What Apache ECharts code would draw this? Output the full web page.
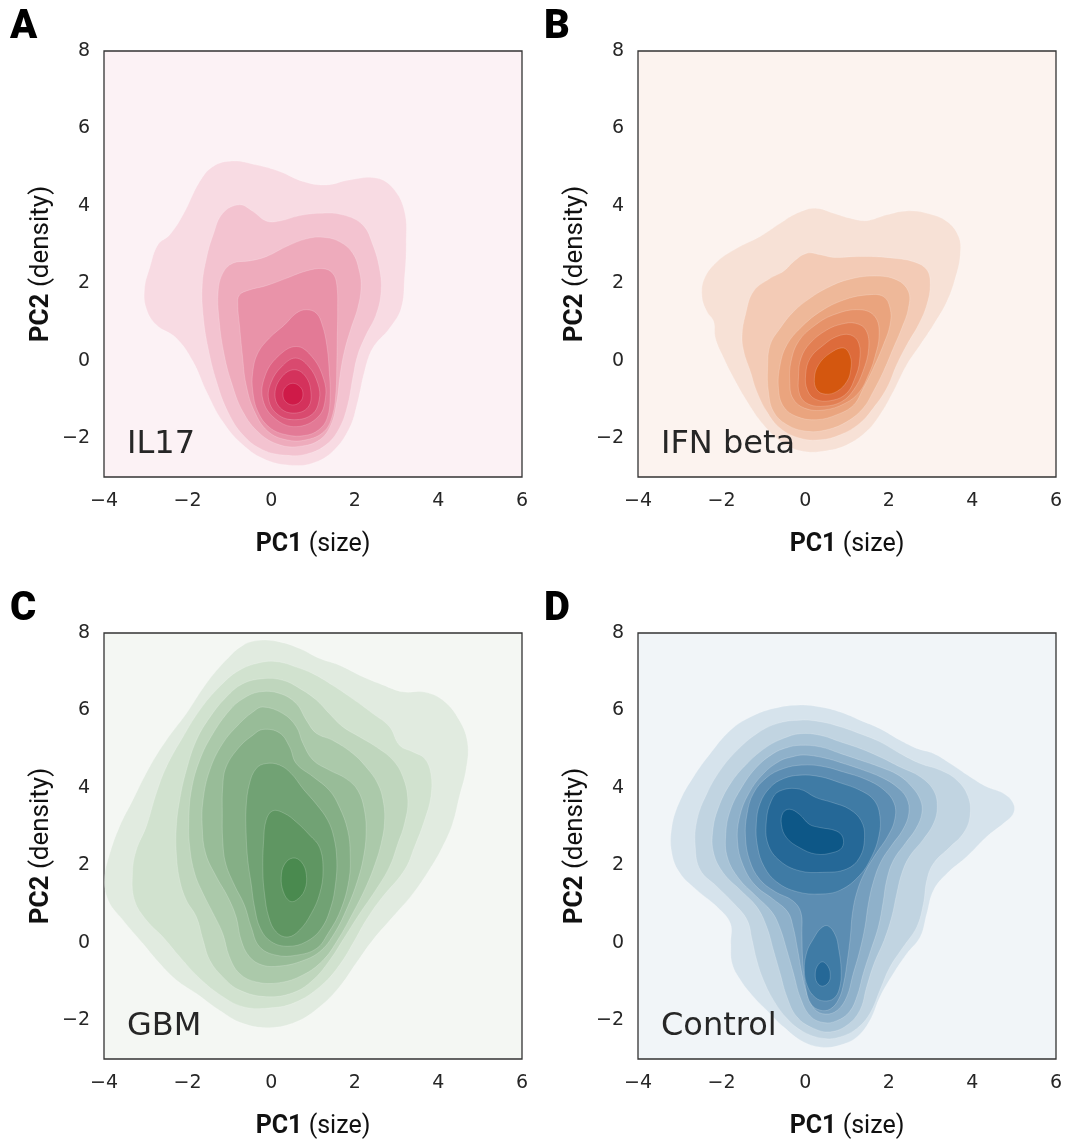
<!DOCTYPE html>
<html>
<head>
  <meta charset="utf-8">
  <title>kde panels</title>
  <script src="https://cdn.jsdelivr.net/npm/echarts@6/dist/echarts.min.js"></script>
  <style>
    body { margin: 0; padding: 0; background: #fff; }
    #main { width: 1066px; height: 1142px; }
  </style>
</head>
<body>
<div id="main"></div>
<script>
  // tick labels shared by the four panels
  var xTicks = [-4, -2, 0, 2, 4, 6];
  var yTicks = [-2, 0, 2, 4, 6, 8];

  // filled density contours, [PC1, PC2] vertices,
  // outermost level first; a level can hold more than one ring
  var il17Levels = [
    [[[-0.92,5.16],[-0.36,5.06],[0.20,4.89],[0.76,4.63],[1.31,4.54],[1.87,4.67],[2.51,4.72],[2.91,4.46],[3.19,3.86],[3.23,3.00],[3.19,2.13],[3.11,1.36],[2.83,0.84],[2.43,0.33],[2.23,-0.28],[2.07,-1.05],[1.87,-1.74],[1.47,-2.34],[1.00,-2.64],[0.52,-2.70],[-0.12,-2.56],[-0.68,-2.17],[-1.16,-1.57],[-1.55,-0.79],[-1.87,-0.02],[-2.27,0.59],[-2.75,0.93],[-2.99,1.36],[-3.03,1.87],[-2.91,2.39],[-2.71,3.00],[-2.43,3.25],[-2.11,3.77],[-1.71,4.63],[-1.39,5.02]]],
    [[[-0.76,4.03],[-0.44,3.86],[-0.12,3.61],[0.20,3.61],[0.68,3.75],[1.16,3.81],[1.71,3.77],[2.19,3.51],[2.43,3.00],[2.59,2.39],[2.63,1.79],[2.51,1.19],[2.27,0.67],[2.07,0.15],[1.95,-0.45],[1.83,-1.14],[1.63,-1.74],[1.31,-2.17],[0.84,-2.41],[0.36,-2.44],[-0.20,-2.30],[-0.68,-1.91],[-1.04,-1.31],[-1.31,-0.53],[-1.51,0.33],[-1.63,1.19],[-1.65,1.96],[-1.55,2.65],[-1.39,3.25],[-1.16,3.81]]],
    [[[-0.92,2.52],[-0.52,2.58],[-0.12,2.69],[0.36,2.95],[0.84,3.15],[1.24,3.19],[1.63,3.08],[1.95,2.78],[2.11,2.31],[2.15,1.88],[2.07,1.36],[1.91,0.84],[1.75,0.24],[1.65,-0.36],[1.57,-1.05],[1.43,-1.65],[1.16,-2.04],[0.68,-2.21],[0.20,-2.17],[-0.28,-1.87],[-0.68,-1.31],[-0.96,-0.53],[-1.14,0.24],[-1.25,1.10],[-1.27,1.79],[-1.16,2.26]]],
    [[[-0.76,1.70],[-0.52,1.83],[-0.12,1.94],[0.36,2.13],[0.84,2.32],[1.24,2.38],[1.47,2.26],[1.57,1.96],[1.59,1.27],[1.58,0.59],[1.57,-0.10],[1.55,-0.79],[1.47,-1.39],[1.27,-1.82],[0.84,-2.04],[0.36,-2.04],[-0.08,-1.82],[-0.40,-1.31],[-0.60,-0.62],[-0.69,0.15],[-0.76,0.93],[-0.80,1.45]]],
    [[[0.84,1.32],[1.08,1.23],[1.22,0.93],[1.33,0.41],[1.39,-0.28],[1.41,-0.96],[1.34,-1.48],[1.14,-1.78],[0.80,-1.93],[0.36,-1.91],[-0.04,-1.72],[-0.32,-1.31],[-0.44,-0.79],[-0.44,-0.28],[-0.32,0.20],[-0.04,0.59],[0.32,0.93],[0.60,1.23]]],
    [[[0.60,0.37],[0.98,0.10],[1.25,-0.45],[1.30,-0.95],[1.12,-1.45],[0.60,-1.70],[0.10,-1.50],[-0.20,-1.00],[-0.15,-0.40],[0.15,0.10]]],
    [[[0.58,0.07],[0.90,-0.15],[1.12,-0.60],[1.15,-1.00],[0.98,-1.38],[0.55,-1.52],[0.15,-1.38],[-0.06,-1.00],[0.00,-0.55],[0.25,-0.15]]],
    [[[0.55,-0.23],[0.82,-0.40],[0.95,-0.80],[0.88,-1.20],[0.55,-1.35],[0.22,-1.22],[0.09,-0.85],[0.25,-0.42]]],
    [[[0.52,-0.58],[0.70,-0.68],[0.76,-0.86],[0.70,-1.05],[0.52,-1.14],[0.34,-1.05],[0.28,-0.86],[0.34,-0.68]]]
  ];

  var ifnLevels = [
    [[[0.24,3.94],[0.68,3.81],[1.08,3.68],[1.47,3.62],[1.95,3.77],[2.43,3.87],[2.91,3.81],[3.39,3.60],[3.67,3.21],[3.71,2.74],[3.59,2.13],[3.39,1.53],[3.07,0.93],[2.75,0.41],[2.43,-0.10],[2.11,-0.79],[1.79,-1.39],[1.47,-1.82],[1.00,-2.17],[0.52,-2.32],[-0.04,-2.34],[-0.52,-2.13],[-1.00,-1.65],[-1.39,-1.05],[-1.71,-0.45],[-1.95,0.07],[-2.15,0.59],[-2.19,1.02],[-2.35,1.27],[-2.47,1.66],[-2.41,2.13],[-2.11,2.56],[-1.63,2.91],[-1.08,3.21],[-0.60,3.55],[-0.20,3.81]]],
    [[[0.04,2.78],[0.36,2.74],[0.68,2.67],[1.16,2.69],[1.63,2.69],[2.11,2.65],[2.59,2.56],[2.91,2.35],[2.99,1.96],[2.91,1.45],[2.71,0.93],[2.43,0.41],[2.19,-0.10],[1.95,-0.71],[1.63,-1.22],[1.31,-1.61],[0.84,-1.91],[0.36,-2.04],[-0.12,-2.00],[-0.60,-1.74],[-0.92,-1.31],[-1.16,-0.79],[-1.31,-0.28],[-1.47,0.24],[-1.51,0.67],[-1.43,1.19],[-1.24,1.79],[-0.84,2.13],[-0.52,2.31],[-0.28,2.56]]],
    [[[1.00,2.09],[1.63,2.19],[2.19,2.09],[2.47,1.79],[2.47,1.36],[2.31,0.84],[2.11,0.33],[1.87,-0.28],[1.63,-0.79],[1.39,-1.22],[1.00,-1.57],[0.52,-1.78],[0.04,-1.82],[-0.44,-1.65],[-0.76,-1.31],[-0.88,-0.79],[-0.90,-0.19],[-0.84,0.41],[-0.60,0.84],[-0.28,1.27],[0.12,1.62],[0.52,1.88]]],
    [[[1.47,1.70],[1.87,1.66],[2.03,1.36],[2.03,0.93],[1.87,0.41],[1.63,-0.19],[1.39,-0.71],[1.16,-1.14],[0.76,-1.39],[0.28,-1.52],[-0.20,-1.44],[-0.52,-1.18],[-0.64,-0.71],[-0.60,-0.10],[-0.44,0.41],[-0.12,0.84],[0.36,1.27],[0.92,1.57]]],
    [[[1.31,1.32],[1.67,1.14],[1.77,0.67],[1.66,0.07],[1.52,-0.35],[1.30,-0.80],[0.95,-1.10],[0.45,-1.27],[-0.02,-1.22],[-0.30,-0.96],[-0.37,-0.53],[-0.34,-0.02],[-0.16,0.50],[0.20,0.89],[0.68,1.19]]],
    [[[1.20,0.97],[1.45,0.80],[1.52,0.33],[1.38,-0.28],[1.16,-0.75],[0.88,-1.05],[0.48,-1.17],[0.08,-1.12],[-0.13,-0.88],[-0.16,-0.40],[-0.10,0.07],[0.12,0.46],[0.52,0.80],[0.88,0.95]]],
    [[[1.08,0.67],[1.28,0.46],[1.30,-0.02],[1.20,-0.42],[0.98,-0.85],[0.60,-1.03],[0.24,-0.99],[0.05,-0.75],[0.01,-0.36],[0.12,0.07],[0.44,0.41],[0.76,0.63]]],
    [[[0.92,0.33],[1.08,0.11],[1.09,-0.23],[1.00,-0.53],[0.76,-0.79],[0.48,-0.86],[0.28,-0.75],[0.22,-0.45],[0.32,-0.10],[0.60,0.20]]]
  ];

  var gbmLevels = [
    [[[-0.28,7.81],[0.20,7.77],[0.68,7.60],[1.16,7.34],[1.63,7.17],[2.19,6.87],[2.67,6.66],[3.15,6.48],[3.63,6.48],[4.10,6.27],[4.50,5.75],[4.70,5.15],[4.66,4.46],[4.50,3.77],[4.34,3.08],[4.10,2.48],[3.78,1.88],[3.39,1.27],[2.91,0.67],[2.43,0.07],[2.03,-0.53],[1.63,-1.14],[1.16,-1.65],[0.60,-2.04],[-0.04,-2.19],[-0.68,-2.08],[-1.24,-1.74],[-1.79,-1.31],[-2.27,-0.96],[-2.67,-0.53],[-3.07,-0.02],[-3.55,0.59],[-3.90,1.10],[-3.98,1.70],[-3.86,2.31],[-3.63,3.00],[-3.31,3.69],[-2.91,4.54],[-2.51,5.23],[-2.03,5.92],[-1.55,6.70],[-1.08,7.30],[-0.68,7.68]]],
    [[[-0.20,7.25],[0.20,7.25],[0.60,7.12],[1.00,6.95],[1.47,6.65],[1.95,6.30],[2.43,5.92],[2.83,5.58],[3.07,5.10],[3.39,4.93],[3.67,4.76],[3.82,4.37],[3.82,3.77],[3.67,3.17],[3.43,2.48],[3.19,1.88],[2.60,1.10],[2.25,0.55],[2.00,0.07],[1.65,-0.55],[1.20,-1.10],[0.55,-1.55],[-0.12,-1.69],[-0.68,-1.65],[-1.16,-1.39],[-1.71,-0.92],[-2.19,-0.36],[-2.59,0.15],[-2.99,0.59],[-3.27,1.10],[-3.32,1.79],[-3.23,2.39],[-2.99,3.00],[-2.75,3.86],[-2.51,4.54],[-2.11,5.32],[-1.71,6.01],[-1.24,6.61],[-0.76,7.04]]],
    [[[-0.20,6.82],[0.28,6.78],[0.68,6.57],[1.08,6.27],[1.39,5.92],[1.71,5.58],[2.11,5.32],[2.51,5.06],[2.91,4.72],[3.15,4.29],[3.27,3.68],[3.19,3.08],[3.03,2.56],[2.83,1.96],[2.50,1.36],[2.12,0.76],[1.76,0.15],[1.40,-0.45],[1.00,-0.96],[0.52,-1.29],[-0.12,-1.39],[-0.76,-1.22],[-1.16,-0.88],[-1.47,-0.45],[-1.63,0.07],[-1.79,0.67],[-2.03,1.10],[-2.19,1.62],[-2.27,2.31],[-2.27,3.00],[-2.19,3.69],[-2.03,4.46],[-1.79,5.23],[-1.47,5.82],[-1.08,6.34],[-0.68,6.69]]],
    [[[-0.28,6.48],[0.20,6.44],[0.60,6.18],[0.84,5.75],[1.08,5.41],[1.47,5.23],[1.95,4.89],[2.27,4.54],[2.55,4.11],[2.69,3.60],[2.71,3.08],[2.63,2.56],[2.49,2.05],[2.27,1.45],[1.95,0.76],[1.59,0.07],[1.24,-0.45],[0.76,-0.83],[0.20,-1.03],[-0.36,-1.01],[-0.76,-0.79],[-1.00,-0.36],[-1.16,0.24],[-1.39,0.76],[-1.63,1.27],[-1.83,1.79],[-1.95,2.48],[-1.97,3.17],[-1.91,3.94],[-1.71,4.72],[-1.39,5.41],[-0.99,6.01],[-0.68,6.30]]],
    [[[-0.20,6.09],[0.28,5.92],[0.60,5.58],[0.76,5.15],[1.00,4.72],[1.39,4.46],[1.79,4.24],[2.07,3.94],[2.23,3.43],[2.27,2.82],[2.21,2.22],[2.07,1.62],[1.83,0.93],[1.51,0.24],[1.16,-0.23],[0.68,-0.49],[0.20,-0.60],[-0.20,-0.58],[-0.52,-0.36],[-0.72,0.07],[-0.84,0.67],[-1.04,1.19],[-1.31,1.70],[-1.57,2.31],[-1.65,3.00],[-1.63,3.69],[-1.47,4.46],[-1.16,5.15],[-0.76,5.66],[-0.44,5.96]]],
    [[[-0.20,5.51],[0.20,5.42],[0.44,5.06],[0.60,4.63],[1.00,4.29],[1.39,3.94],[1.63,3.51],[1.83,2.91],[1.89,2.31],[1.86,1.62],[1.66,0.84],[1.36,0.24],[1.08,-0.15],[0.60,-0.32],[0.12,-0.32],[-0.28,-0.10],[-0.48,0.41],[-0.64,0.97],[-0.88,1.49],[-1.09,2.05],[-1.16,2.65],[-1.17,3.34],[-1.16,4.03],[-1.08,4.54],[-0.76,5.06],[-0.44,5.36]]],
    [[[-0.12,4.63],[0.20,4.59],[0.48,4.37],[0.76,3.98],[1.08,3.58],[1.35,3.17],[1.50,2.72],[1.57,2.13],[1.54,1.53],[1.43,0.93],[1.20,0.37],[0.84,0.03],[0.40,-0.09],[0.00,0.03],[-0.26,0.37],[-0.40,0.93],[-0.48,1.53],[-0.56,2.13],[-0.60,2.82],[-0.60,3.51],[-0.52,4.11],[-0.36,4.50]]],
    [[[0.04,3.41],[0.32,3.34],[0.60,3.12],[0.92,2.78],[1.16,2.46],[1.24,1.86],[1.16,1.27],[0.96,0.76],[0.68,0.33],[0.40,0.15],[0.12,0.28],[-0.06,0.67],[-0.16,1.27],[-0.20,1.86],[-0.18,2.65],[-0.12,3.17]]],
    [[[0.52,2.19],[0.72,2.09],[0.84,1.77],[0.80,1.36],[0.60,1.10],[0.44,1.08],[0.29,1.32],[0.24,1.69],[0.32,2.03]]]
  ];

  var controlLevels = [
    [[[-0.12,6.14],[0.36,6.09],[0.84,5.96],[1.31,5.75],[1.79,5.53],[2.27,5.23],[2.67,5.02],[3.07,4.89],[3.47,4.63],[3.94,4.29],[4.34,4.03],[4.74,3.86],[4.98,3.60],[4.98,3.34],[4.74,3.08],[4.34,2.74],[3.86,2.22],[3.39,1.79],[3.07,1.36],[2.91,0.76],[2.75,0.15],[2.43,-0.28],[2.11,-0.79],[1.79,-1.39],[1.55,-2.00],[1.24,-2.43],[0.84,-2.64],[0.44,-2.70],[-0.04,-2.56],[-0.52,-2.17],[-0.92,-1.74],[-1.24,-1.39],[-1.55,-0.96],[-1.75,-0.53],[-1.78,-0.02],[-1.79,0.50],[-2.11,0.93],[-2.59,1.36],[-2.99,1.79],[-3.19,2.31],[-3.19,3.00],[-2.99,3.68],[-2.67,4.29],[-2.27,4.89],[-1.79,5.49],[-1.31,5.83],[-0.76,6.05]]],
    [[[-0.12,5.75],[0.36,5.71],[0.84,5.58],[1.31,5.40],[1.79,5.19],[2.27,4.89],[2.75,4.63],[3.23,4.46],[3.63,4.20],[3.90,3.77],[3.94,3.25],[3.78,2.82],[3.47,2.48],[3.07,2.05],[2.91,1.62],[2.83,1.02],[2.67,0.41],[2.35,-0.10],[2.03,-0.62],[1.79,-1.22],[1.55,-1.82],[1.24,-2.21],[0.84,-2.43],[0.44,-2.47],[-0.04,-2.30],[-0.44,-1.95],[-0.76,-1.48],[-1.00,-0.96],[-1.16,-0.45],[-1.27,0.07],[-1.39,0.59],[-1.71,1.02],[-2.11,1.45],[-2.51,1.88],[-2.63,2.48],[-2.59,3.17],[-2.35,3.86],[-2.03,4.46],[-1.63,4.97],[-1.16,5.40],[-0.68,5.66]]],
    [[[-0.12,5.40],[0.36,5.36],[0.84,5.19],[1.31,5.02],[1.79,4.80],[2.27,4.54],[2.75,4.29],[3.07,3.94],[3.16,3.51],[3.07,3.08],[2.81,2.65],[2.49,2.22],[2.31,1.79],[2.19,1.27],[2.07,0.67],[1.89,0.07],[1.65,-0.53],[1.47,-1.14],[1.31,-1.74],[1.00,-2.13],[0.60,-2.30],[0.20,-2.21],[-0.20,-1.91],[-0.44,-1.39],[-0.60,-0.79],[-0.76,-0.19],[-0.92,0.41],[-1.16,0.93],[-1.55,1.36],[-1.95,1.79],[-2.19,2.31],[-2.21,2.91],[-2.07,3.51],[-1.79,4.11],[-1.39,4.63],[-0.92,5.06],[-0.52,5.28]]],
    [[[-0.12,5.10],[0.36,5.06],[0.84,4.89],[1.31,4.72],[1.79,4.54],[2.23,4.33],[2.55,4.03],[2.76,3.68],[2.79,3.34],[2.65,2.95],[2.39,2.56],[2.11,2.13],[1.95,1.62],[1.86,1.02],[1.75,0.41],[1.57,-0.19],[1.39,-0.79],[1.25,-1.35],[1.06,-1.78],[0.76,-2.01],[0.44,-2.06],[0.12,-1.89],[-0.12,-1.41],[-0.28,-0.79],[-0.44,-0.19],[-0.60,0.37],[-0.80,0.80],[-1.20,1.23],[-1.59,1.66],[-1.86,2.20],[-1.90,2.82],[-1.79,3.43],[-1.51,4.03],[-1.16,4.54],[-0.76,4.89],[-0.44,5.04]]],
    [[[-0.04,4.85],[0.44,4.78],[0.92,4.63],[1.39,4.46],[1.83,4.27],[2.19,4.03],[2.43,3.73],[2.48,3.34],[2.33,2.91],[2.07,2.52],[1.81,2.09],[1.63,1.57],[1.51,1.00],[1.43,0.41],[1.30,-0.23],[1.14,-0.83],[1.00,-1.38],[0.77,-1.74],[0.48,-1.84],[0.22,-1.71],[0.04,-1.31],[-0.08,-0.79],[-0.18,-0.19],[-0.29,0.41],[-0.42,0.80],[-0.76,1.12],[-1.20,1.49],[-1.49,2.01],[-1.62,2.61],[-1.57,3.25],[-1.35,3.86],[-1.00,4.37],[-0.60,4.70],[-0.32,4.80]]],
    [[[-0.08,4.59],[0.40,4.56],[0.92,4.41],[1.43,4.23],[1.87,3.96],[2.13,3.60],[2.14,3.17],[1.97,2.74],[1.70,2.31],[1.43,1.83],[1.24,1.32],[1.13,0.76],[1.08,0.15],[1.01,-0.45],[0.92,-1.05],[0.80,-1.46],[0.60,-1.71],[0.36,-1.74],[0.14,-1.58],[0.01,-1.14],[-0.06,-0.45],[-0.08,0.24],[-0.10,0.77],[-0.29,1.08],[-0.72,1.32],[-1.09,1.64],[-1.33,2.13],[-1.43,2.74],[-1.39,3.34],[-1.24,3.86],[-0.92,4.27],[-0.52,4.50]]],
    [[[-0.12,4.33],[0.36,4.29],[0.84,4.13],[1.31,3.94],[1.65,3.68],[1.79,3.25],[1.76,2.74],[1.59,2.22],[1.31,1.75],[0.84,1.36],[0.36,1.26],[-0.20,1.32],[-0.68,1.57],[-0.98,1.96],[-1.14,2.48],[-1.17,3.08],[-1.08,3.60],[-0.84,4.01],[-0.52,4.24]],
     [[0.54,0.44],[0.72,0.20],[0.80,-0.15],[0.86,-0.71],[0.82,-1.18],[0.68,-1.44],[0.45,-1.50],[0.24,-1.41],[0.06,-1.14],[-0.02,-0.71],[0.04,-0.23],[0.20,0.11],[0.37,0.37]]],
    [[[-0.61,3.92],[-0.14,3.97],[0.26,3.75],[0.66,3.62],[1.06,3.45],[1.34,3.15],[1.42,2.72],[1.30,2.20],[0.98,1.90],[0.42,1.82],[-0.14,1.86],[-0.61,2.12],[-0.89,2.55],[-0.93,3.15],[-0.81,3.67]],
     [[0.41,-0.49],[0.54,-0.60],[0.60,-0.81],[0.56,-1.02],[0.41,-1.12],[0.28,-1.02],[0.24,-0.81],[0.29,-0.60]]],
    [[[-0.37,3.45],[-0.14,3.32],[0.10,3.06],[0.34,2.98],[0.74,2.89],[0.90,2.72],[0.88,2.46],[0.66,2.33],[0.26,2.29],[-0.14,2.46],[-0.45,2.72],[-0.57,3.06],[-0.53,3.36]]]
  ];

  // fill colour for each level, light to dark
  var il17Colors = ['#f8dbe3', '#f3c3d0', '#eeabbc', '#e993a9', '#e37a96', '#de6282', '#d94a6f', '#d4325c', '#cf1a48'];
  var ifnColors = ['#f7e1d6', '#f3cbb6', '#eeb899', '#eaa47e', '#e69269', '#e27f53', '#dd6b3b', '#d4570f'];
  var gbmColors = ['#e1ebe0', '#d1e2cf', '#bfd6bd', '#abc9aa', '#98bc98', '#85af86', '#71a274', '#5f9662', '#4a8a4f'];
  var controlColors = ['#d6e3ec', '#c1d4e1', '#a8c3d6', '#8fb1ca', '#769fbe', '#5c8db2', '#3f7ba5', '#256897', '#0d5787'];

  var panels = [
    { letter: 'A', label: 'IL17', levels: il17Levels, colors: il17Colors, bg: '#fcf2f5', left: 104, top: 51 },
    { letter: 'B', label: 'IFN beta', levels: ifnLevels, colors: ifnColors, bg: '#fcf3ef', left: 638, top: 51 },
    { letter: 'C', label: 'GBM', levels: gbmLevels, colors: gbmColors, bg: '#f4f7f3', left: 104, top: 633 },
    { letter: 'D', label: 'Control', levels: controlLevels, colors: controlColors, bg: '#f1f5f8', left: 638, top: 633 }
  ];

  var W = 418, H = 426;

  function minus(v) {
    return v < 0 ? '\u2212' + (-v) : String(v);
  }

  var grids = [], xAxes = [], yAxes = [], series = [], graphics = [];

  panels.forEach(function (p, i) {
    grids.push({
      left: p.left, top: p.top, width: W, height: H,
      show: true, backgroundColor: p.bg,
      borderColor: '#333', borderWidth: 1.3
    });
    xAxes.push({
      gridIndex: i, type: 'value', min: -4, max: 6, interval: 2,
      axisLine: { show: false }, axisTick: { show: false }, splitLine: { show: false },
      axisLabel: {
        margin: 15, fontSize: 19, fontFamily: 'DejaVu Sans', color: '#262626',
        formatter: function (v) { return xTicks.indexOf(v) >= 0 ? minus(v) : ''; }
      },
      name: '{b|PC1} (size)', nameLocation: 'middle', nameGap: 55,
      nameTextStyle: {
        fontFamily: 'Roboto', fontSize: 25, color: '#111',
        rich: { b: { fontFamily: 'Roboto', fontSize: 25, fontWeight: 'bold', color: '#111' } }
      }
    });
    yAxes.push({
      gridIndex: i, type: 'value', min: -3, max: 8, interval: 1,
      axisLine: { show: false }, axisTick: { show: false }, splitLine: { show: false },
      axisLabel: {
        margin: 14, fontSize: 19, fontFamily: 'DejaVu Sans', color: '#262626',
        formatter: function (v) { return yTicks.indexOf(v) >= 0 ? minus(v) : ''; }
      },
      name: '{b|PC2} (density)', nameLocation: 'middle', nameGap: 50,
      nameTextStyle: {
        fontFamily: 'Roboto', fontSize: 26, color: '#111',
        rich: { b: { fontFamily: 'Roboto', fontSize: 26, fontWeight: 'bold', color: '#111' } }
      }
    });

    var items = [];
    p.levels.forEach(function (rings, lv) {
      rings.forEach(function (r, k) { items.push([lv, k]); });
    });

    series.push({
      type: 'custom',
      xAxisIndex: i, yAxisIndex: i,
      clip: true, silent: true,
      data: items,
      renderItem: function (params, api) {
        var lv = api.value(0), k = api.value(1);
        var pts = p.levels[lv][k].map(function (q) { return api.coord(q); });
        return {
          type: 'polygon',
          shape: { points: pts, smooth: 0.4 },
          style: { fill: p.colors[lv], stroke: 'rgba(255,255,255,0.3)', lineWidth: 0.6 }
        };
      }
    });

    graphics.push({
      type: 'text', left: p.left - 94, top: p.top - 43, z: 100,
      style: { text: p.letter, font: '900 40px Roboto', fill: '#000' }
    });
    graphics.push({
      type: 'text', left: p.left + 23, top: p.top + 378, z: 100,
      style: { text: p.label, font: '32px "DejaVu Sans"', fill: '#262626' }
    });
  });

  var myChart = echarts.init(document.getElementById('main'));
  myChart.setOption({
    animation: false,
    backgroundColor: '#fff',
    grid: grids,
    xAxis: xAxes,
    yAxis: yAxes,
    series: series,
    graphic: graphics
  });
</script>
</body>
</html>
